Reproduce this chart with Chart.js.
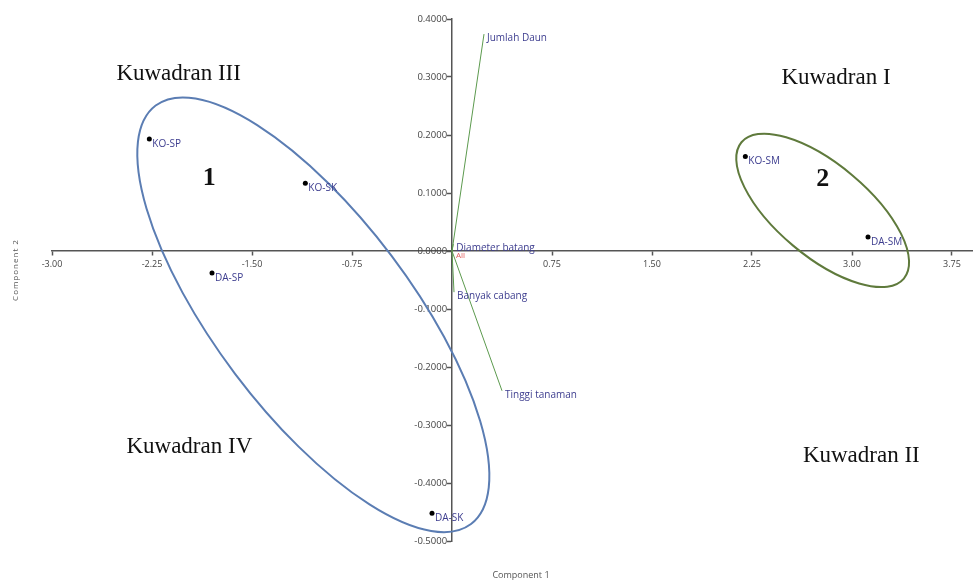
<!DOCTYPE html>
<html>
<head>
<meta charset="utf-8">
<script src="https://cdn.jsdelivr.net/npm/chart.js@4.4.1/dist/chart.umd.min.js"></script>
<style>
  html, body { margin: 0; padding: 0; background: #fff; }
  #wrap { width: 976px; height: 580px; }
</style>
</head>
<body>
<div id="wrap"><canvas id="biplot" width="976" height="580"></canvas></div>
<script>
// 样本得分 (Component 1 / Component 2)
const sampleNames = ['KO-SP', 'KO-SK', 'DA-SP', 'DA-SK', 'KO-SM', 'DA-SM'];
const sampleX = [-2.27, -1.10, -1.80, -0.15, 2.20, 3.12];
const sampleY = [0.193, 0.117, -0.038, -0.452, 0.163, 0.024];

// 变量载荷向量
const variableNames = ['Jumlah Daun', 'Diameter batang', 'Banyak cabang', 'Tinggi tanaman'];
const variableX = [0.24, 0.01, 0.015, 0.375];
const variableY = [0.374, 0.012, -0.071, -0.241];

// 坐标轴刻度
const xTicks = [-3.00, -2.25, -1.50, -0.75, 0.75, 1.50, 2.25, 3.00, 3.75];
const yTicks = [0.4, 0.3, 0.2, 0.1, 0.0, -0.1, -0.2, -0.3, -0.4, -0.5];

// 象限与分组文字
const quadrantNames = ['Kuwadran III', 'Kuwadran I', 'Kuwadran IV', 'Kuwadran II'];
const quadrantX = [-2.05, 2.88, -1.97, 3.07];
const quadrantY = [0.295, 0.288, -0.348, -0.364];
const groupNames = ['1', '2'];
const groupX = [-1.82, 2.78];
const groupY = [0.114, 0.112];

// 分组椭圆 (中心为数据坐标, 半轴为像素)
const ellipses = [
    { cx: -1.04, cy: -0.110, rx: 262, ry: 98, angle: 53, color: '#5b7db3' },
    { cx: 2.78, cy: 0.070, rx: 106, ry: 46, angle: 40, color: '#5f7a3c' }
];

const labelColor = '#3d3d8f';
const vectorColor = '#5c9a4e';

// 自定义绘制：椭圆、标签、轴标题
const biplotPlugin = {
    id: 'biplotPlugin',
    afterDatasetsDraw(chart) {
        const ctx = chart.ctx;
        const xs = chart.scales.x;
        const ys = chart.scales.y;
        ctx.save();

        // 椭圆
        ellipses.forEach(e => {
            ctx.beginPath();
            ctx.ellipse(xs.getPixelForValue(e.cx), ys.getPixelForValue(e.cy),
                e.rx, e.ry, e.angle * Math.PI / 180, 0, Math.PI * 2);
            ctx.strokeStyle = e.color;
            ctx.lineWidth = 2;
            ctx.stroke();
        });

        // 样本标签
        ctx.font = '10px "Open Sans"';
        ctx.fillStyle = labelColor;
        ctx.textAlign = 'left';
        ctx.textBaseline = 'middle';
        sampleNames.forEach((name, i) => {
            ctx.fillText(name, xs.getPixelForValue(sampleX[i]) + 3, ys.getPixelForValue(sampleY[i]) + 5);
        });

        // 变量标签
        variableNames.forEach((name, i) => {
            ctx.fillText(name, xs.getPixelForValue(variableX[i]) + 3, ys.getPixelForValue(variableY[i]) + 4);
        });

        // 原点标记
        ctx.font = '8px "Open Sans"';
        ctx.fillStyle = '#e06060';
        ctx.fillText('All', xs.getPixelForValue(0) + 4, ys.getPixelForValue(0) + 5);

        // 象限文字
        ctx.fillStyle = '#111';
        ctx.textAlign = 'center';
        ctx.textBaseline = 'alphabetic';
        ctx.font = '23px "Liberation Serif"';
        quadrantNames.forEach((name, i) => {
            ctx.fillText(name, xs.getPixelForValue(quadrantX[i]), ys.getPixelForValue(quadrantY[i]));
        });
        ctx.font = 'bold 26px "Liberation Serif"';
        groupNames.forEach((name, i) => {
            ctx.fillText(name, xs.getPixelForValue(groupX[i]), ys.getPixelForValue(groupY[i]));
        });

        // 轴标题
        ctx.fillStyle = '#555';
        ctx.font = '9px "Open Sans"';
        ctx.textBaseline = 'middle';
        ctx.fillText('Component 1', 521, 575);
        ctx.save();
        ctx.translate(16, 270);
        ctx.rotate(-Math.PI / 2);
        ctx.letterSpacing = '1px';
        ctx.font = '8px "Open Sans"';
        ctx.fillText('Component 2', 0, 0);
        ctx.restore();

        ctx.restore();
    }
};

// 创建双标图
function createBiplot() {
    const ctx = document.getElementById('biplot').getContext('2d');
    const datasets = [{
        label: 'Samples',
        data: sampleX.map((v, i) => ({ x: v, y: sampleY[i] })),
        pointRadius: 2.5,
        pointBackgroundColor: '#000',
        pointBorderWidth: 0,
        showLine: false
    }];
    variableNames.forEach((name, i) => {
        datasets.push({
            label: name,
            data: [{ x: 0, y: 0 }, { x: variableX[i], y: variableY[i] }],
            showLine: true,
            borderColor: vectorColor,
            borderWidth: 1,
            pointRadius: 0
        });
    });

    new Chart(ctx, {
        type: 'scatter',
        data: { datasets: datasets },
        options: {
            responsive: false,
            animation: false,
            devicePixelRatio: 1,
            layout: { padding: { left: 52, right: 0, top: 19, bottom: 39 } },
            plugins: {
                legend: { display: false },
                tooltip: { enabled: false }
            },
            scales: {
                x: {
                    type: 'linear',
                    min: -3,
                    max: 3.9,
                    position: { y: 0 },
                    afterBuildTicks: s => { s.ticks = xTicks.map(v => ({ value: v })); },
                    grid: { drawOnChartArea: false, tickLength: 4, color: '#555', tickWidth: 1.5 },
                    border: { color: '#555', width: 1.5 },
                    ticks: {
                        callback: v => v.toFixed(2),
                        autoSkip: false,
                        maxRotation: 0,
                        padding: 4,
                        color: '#444',
                        font: { family: 'Open Sans', size: 9 }
                    }
                },
                y: {
                    type: 'linear',
                    min: -0.5,
                    max: 0.4,
                    position: { x: 0 },
                    afterBuildTicks: s => { s.ticks = yTicks.map(v => ({ value: v })); },
                    grid: { drawOnChartArea: false, tickLength: 4, color: '#555', tickWidth: 1.5 },
                    border: { color: '#555', width: 1.5 },
                    ticks: {
                        // 居中轴的标签没有 padding，用尾部空格让出刻度线
                        callback: v => v.toFixed(4) + '  ',
                        autoSkip: false,
                        color: '#444',
                        font: { family: 'Open Sans', size: 9.5 }
                    }
                }
            }
        },
        plugins: [biplotPlugin]
    });
}

document.addEventListener('DOMContentLoaded', createBiplot);
</script>
</body>
</html>
